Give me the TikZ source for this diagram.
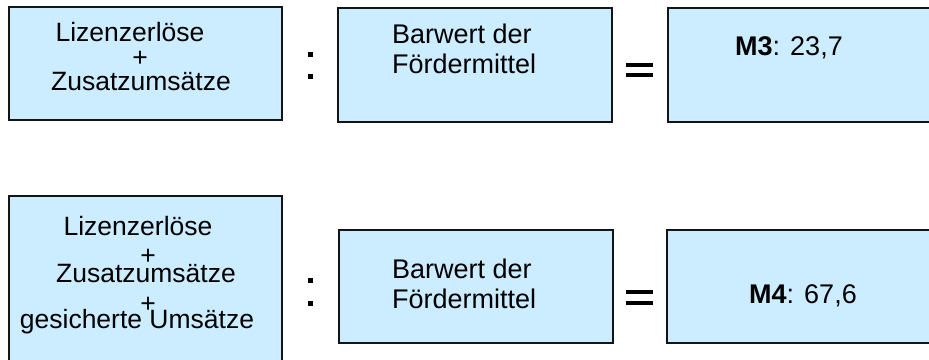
\documentclass[tikz,border=0pt]{standalone}
\usepackage{fontspec}
\setmainfont{Liberation Sans}
\definecolor{boxfill}{RGB}{204,236,255}
\definecolor{boxline}{RGB}{20,20,20}
\tikzset{
  box/.style={draw=boxline, line width=1.6pt, fill=boxfill, rectangle, inner sep=0pt, outer sep=0pt},
  txt/.style={inner sep=0pt, font=\fontsize{26.5}{30}\selectfont, text=black},
  txtm/.style={inner sep=0pt, font=\fontsize{27}{30}\selectfont, text=black},
  sq/.style={fill=black, inner sep=0pt, minimum width=5pt, minimum height=5pt, rectangle},
  bar/.style={fill=black, inner sep=0pt, minimum width=27pt, minimum height=4pt, rectangle},
}
\begin{document}
\begin{tikzpicture}[x=1pt,y=-1pt]
\useasboundingbox (0,0) rectangle (929,359);
\clip (0,0) rectangle (929,359);
% top row
\node[box, minimum width=273pt, minimum height=113pt] (b1) at (145.5,63.5) {};
\node[box, minimum width=274pt, minimum height=114pt] (b2) at (475,65) {};
\node[box, minimum width=280pt, minimum height=114pt] (b3) at (808,65) {};
\node[txt, anchor=base] (t1a) at (130,41) {Lizenzerlöse};
\node[txt] (t1b) at (140,59) {+};
\node[txt, anchor=base] (t1c) at (141,90) {Zusatzumsätze};
\node[txtm, anchor=base west] (t2a) at (392,43) {Barwert der};
\node[txtm, anchor=base west] (t2b) at (392,73) {Fördermittel};
\node[txtm, anchor=base] (t3) at (789,55) {\textbf{M3}: 23,7};
\node[sq] (c1a) at (310.5,54.5) {};
\node[sq] (c1b) at (310.5,76.5) {};
\node[bar] (e1a) at (639.5,65) {};
\node[bar] (e1b) at (639.5,75) {};
% bottom row
\node[box, minimum width=273pt, minimum height=180pt] (b4) at (145.5,286) {};
\node[box, minimum width=274pt, minimum height=113pt] (b5) at (476,286.5) {};
\node[box, minimum width=280pt, minimum height=113pt] (b6) at (807,286.5) {};
\node[txt, anchor=base] (t4a) at (138,235) {Lizenzerlöse};
\node[txt] (t4b) at (148,257) {+};
\node[txt, anchor=base] (t4c) at (146,282) {Zusatzumsätze};
\node[txt] (t4d) at (148,305) {+};
\node[txt, anchor=base] (t4e) at (137,328) {gesicherte Umsätze};
\node[txtm, anchor=base west] (t5a) at (392,278) {Barwert der};
\node[txtm, anchor=base west] (t5b) at (392,308) {Fördermittel};
\node[txtm, anchor=base] (t6) at (803,303) {\textbf{M4}: 67,6};
\node[sq] (c2a) at (310.5,280.5) {};
\node[sq] (c2b) at (310.5,303.5) {};
\node[bar] (e2a) at (639.5,292) {};
\node[bar] (e2b) at (639.5,303) {};
\end{tikzpicture}
\end{document}
